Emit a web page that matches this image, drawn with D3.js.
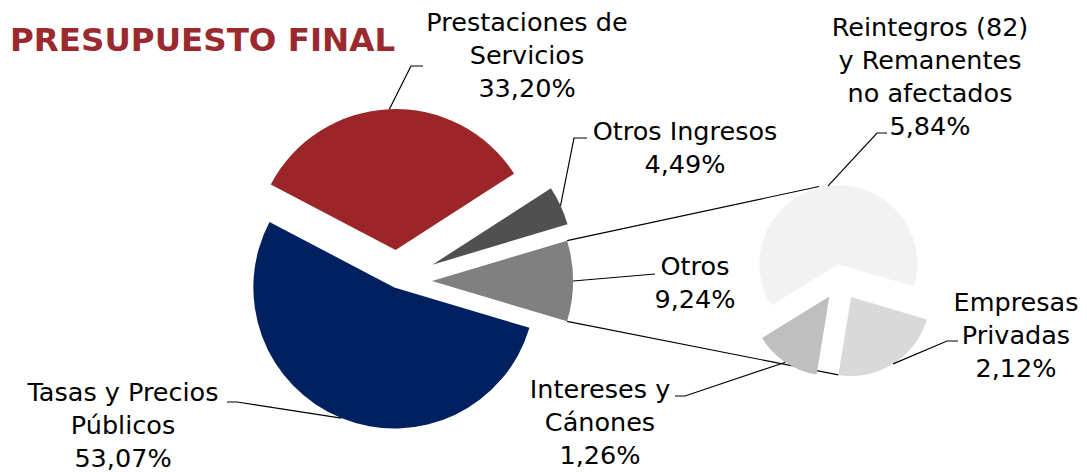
<!DOCTYPE html>
<html>
<head>
<meta charset="utf-8">
<script src="https://cdn.jsdelivr.net/npm/d3@7"></script>
<style>
  body { margin: 0; background: #fff; }
  svg text { font-family: "DejaVu Sans", sans-serif; }
</style>
</head>
<body>
<div id="chart"></div>
<script>
// main pie
const mainNames = ["Tasas y Precios Públicos", "Prestaciones de Servicios", "Otros Ingresos", "Otros"];
const mainValues = [53.07, 33.20, 4.49, 9.24];
const mainText = [
  ["Tasas y Precios", "Públicos", "53,07%"],
  ["Prestaciones de", "Servicios", "33,20%"],
  ["Otros Ingresos", "4,49%"],
  ["Otros", "9,24%"]
];
// secondary pie (breakdown of "Otros")
const subNames = ["Empresas Privadas", "Intereses y Cánones", "Reintegros (82) y Remanentes no afectados"];
const subValues = [2.12, 1.26, 5.84];
const subText = [
  ["Empresas", "Privadas", "2,12%"],
  ["Intereses y", "Cánones", "1,26%"],
  ["Reintegros (82)", "y Remanentes", "no afectados", "5,84%"]
];

const W = 1087, H = 472;
const mainColors = ["#002060", "#9b2529", "#505050", "#808080"];
const subColors = ["#d9d9d9", "#bfbfbf", "#f2f2f2"];
const mainExplode = [7, 31, 39, 35];
const subExplode = [20, 20, 16];
const main = { cx: 397, cy: 281, r: 141 };
const sub = { cx: 840.5, cy: 280, r: 79 };
const lineH = 33;

// label boxes: text centre x, first line centre y, leader bend points
const mainLayout = [
  { x: 123, y: 392, pts: [[237, 402], [227, 402]] },
  { x: 527, y: 22, pts: [[411, 66], [423, 66]] },
  { x: 685, y: 131, pts: [[574, 138], [587, 138]] },
  { x: 695, y: 266, pts: [[655, 274]] }
];
const subLayout = [
  { x: 1016, y: 302, pts: [[947, 341], [958, 341]] },
  { x: 600, y: 389, pts: [[685, 396], [675, 396]] },
  { x: 930, y: 27, pts: [[877, 133], [887, 133]] }
];

const rad = d => d * Math.PI / 180;
const svg = d3.select("#chart").append("svg")
  .attr("width", W).attr("height", H);

// "Otros" centred on the right side of the main pie
const mainStart = rad(90 + 180 * mainValues[3] / d3.sum(mainValues));
const pieMain = d3.pie().sort(null).value(d => d)
  .startAngle(mainStart).endAngle(mainStart + 2 * Math.PI);
const subStart = rad(106.5);
const pieSub = d3.pie().sort(null).value(d => d)
  .startAngle(subStart).endAngle(subStart + 2 * Math.PI);

const mainArcs = pieMain(mainValues);
const subArcs = pieSub(subValues);

function tip(c, d, e) {
  const a = (d.startAngle + d.endAngle) / 2;
  return [c.cx + e * Math.sin(a), c.cy - e * Math.cos(a)];
}
function onRim(p, r, a) {
  return [p[0] + r * Math.sin(a), p[1] - r * Math.cos(a)];
}

// connector lines between the pies (drawn below slices)
const otros = mainArcs[3], otrosTip = tip(main, otros, mainExplode[3]);
const reinTip = tip(sub, subArcs[2], subExplode[2]);
const empTip = tip(sub, subArcs[0], subExplode[0]);
const connectors = [
  [onRim(otrosTip, main.r, otros.startAngle), onRim(reinTip, sub.r + 1, rad(346))],
  [onRim(otrosTip, main.r, otros.endAngle), onRim(empTip, sub.r, subArcs[0].endAngle)]
];
svg.append("g").selectAll("line").data(connectors).join("line")
  .attr("x1", d => d[0][0]).attr("y1", d => d[0][1])
  .attr("x2", d => d[1][0]).attr("y2", d => d[1][1])
  .attr("stroke", "#000").attr("stroke-width", 1.1);

const arcMain = d3.arc().innerRadius(0).outerRadius(main.r);
const arcSub = d3.arc().innerRadius(0).outerRadius(sub.r);

svg.append("g").selectAll("path").data(mainArcs).join("path")
  .attr("transform", (d, i) => "translate(" + tip(main, d, mainExplode[i]) + ")")
  .attr("d", arcMain)
  .attr("fill", (d, i) => mainColors[i]);

svg.append("g").selectAll("path").data(subArcs).join("path")
  .attr("transform", (d, i) => "translate(" + tip(sub, d, subExplode[i]) + ")")
  .attr("d", arcSub)
  .attr("fill", (d, i) => subColors[i]);

// leader lines
function leaders(arcs, c, r, explode, layout) {
  return arcs.map((d, i) => {
    const a = (d.startAngle + d.endAngle) / 2;
    return [onRim(tip(c, d, explode[i]), r, a)].concat(layout[i].pts);
  });
}
const leaderData = leaders(mainArcs, main, main.r, mainExplode, mainLayout)
  .concat(leaders(subArcs, sub, sub.r, subExplode, subLayout));
svg.append("g").selectAll("polyline").data(leaderData).join("polyline")
  .attr("points", d => d.join(" "))
  .attr("fill", "none").attr("stroke", "#000").attr("stroke-width", 1.2);

// labels
const labelData = mainText.map((t, i) => ({ t, l: mainLayout[i] }))
  .concat(subText.map((t, i) => ({ t, l: subLayout[i] })));
const lbl = svg.append("g").selectAll("text").data(labelData).join("text")
  .attr("text-anchor", "middle")
  .attr("font-size", 25.5)
  .attr("fill", "#000");
lbl.selectAll("tspan").data(d => d.t.map((s, k) => ({ s, x: d.l.x, y: d.l.y + k * lineH })))
  .join("tspan")
  .attr("x", d => d.x).attr("y", d => d.y).attr("dy", "0.36em")
  .text(d => d.s);

svg.append("text")
  .attr("x", 10).attr("y", 51)
  .attr("font-size", 32.5).attr("font-weight", "bold")
  .attr("fill", "#9b2a2e")
  .text("PRESUPUESTO FINAL");
</script>
</body>
</html>
